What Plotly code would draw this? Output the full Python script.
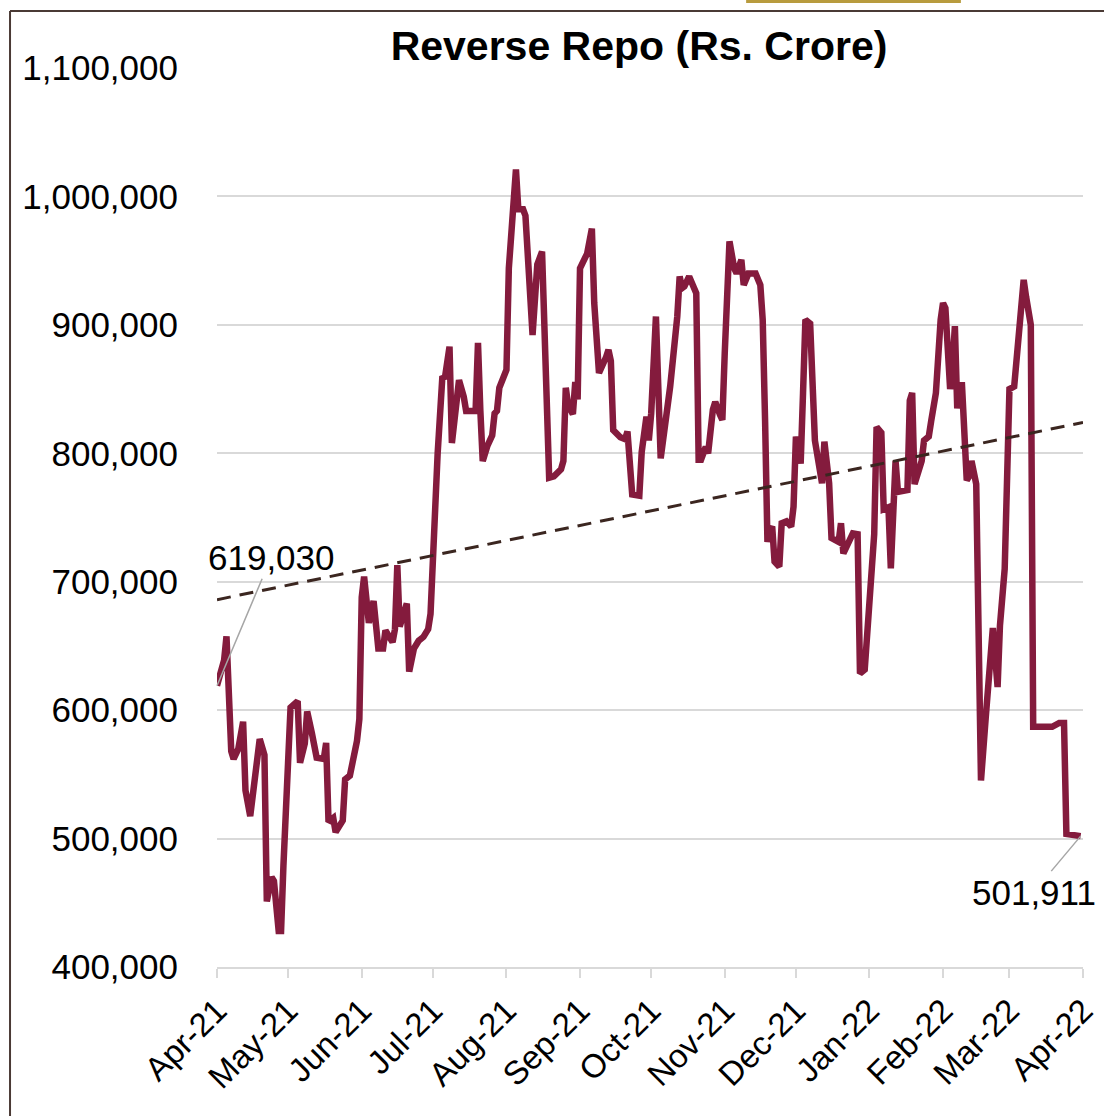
import plotly.graph_objects as go

# Daily reverse repo balances (Rs. crore), FY2021-22
DATES = [
    "2021-04-01", "2021-04-04", "2021-04-05", "2021-04-07", "2021-04-08", "2021-04-10",
    "2021-04-12", "2021-04-13", "2021-04-15", "2021-04-18", "2021-04-19", "2021-04-21",
    "2021-04-22", "2021-04-24", "2021-04-25", "2021-04-27", "2021-04-28", "2021-04-29",
    "2021-05-01", "2021-05-02", "2021-05-05", "2021-05-06", "2021-05-08", "2021-05-09",
    "2021-05-11", "2021-05-13", "2021-05-16", "2021-05-17", "2021-05-18", "2021-05-20",
    "2021-05-21", "2021-05-24", "2021-05-25", "2021-05-27", "2021-05-30", "2021-05-31",
    "2021-06-01", "2021-06-02", "2021-06-04", "2021-06-06", "2021-06-08", "2021-06-10",
    "2021-06-11", "2021-06-14", "2021-06-15", "2021-06-16", "2021-06-17", "2021-06-20",
    "2021-06-21", "2021-06-23", "2021-06-25", "2021-06-27", "2021-06-29", "2021-06-30",
    "2021-07-03", "2021-07-04", "2021-07-05", "2021-07-06", "2021-07-08", "2021-07-09",
    "2021-07-10", "2021-07-12", "2021-07-14", "2021-07-15", "2021-07-19", "2021-07-20",
    "2021-07-21", "2021-07-22", "2021-07-24", "2021-07-26", "2021-07-27", "2021-07-28",
    "2021-07-29", "2021-08-01", "2021-08-02", "2021-08-05", "2021-08-06", "2021-08-08",
    "2021-08-09", "2021-08-12", "2021-08-14", "2021-08-16", "2021-08-19", "2021-08-21",
    "2021-08-24", "2021-08-25", "2021-08-26", "2021-08-27", "2021-08-29", "2021-08-30",
    "2021-08-31", "2021-09-01", "2021-09-04", "2021-09-06", "2021-09-07", "2021-09-09",
    "2021-09-12", "2021-09-13", "2021-09-14", "2021-09-15", "2021-09-18", "2021-09-20",
    "2021-09-21", "2021-09-22", "2021-09-23", "2021-09-26", "2021-09-27", "2021-09-29",
    "2021-09-30", "2021-10-01", "2021-10-03", "2021-10-05", "2021-10-09", "2021-10-12",
    "2021-10-13", "2021-10-14", "2021-10-15", "2021-10-17", "2021-10-20", "2021-10-21",
    "2021-10-22", "2021-10-24", "2021-10-25", "2021-10-27", "2021-10-28", "2021-10-30",
    "2021-10-31", "2021-11-01", "2021-11-03", "2021-11-05", "2021-11-06", "2021-11-08",
    "2021-11-09", "2021-11-11", "2021-11-14", "2021-11-16", "2021-11-17", "2021-11-18",
    "2021-11-19", "2021-11-20", "2021-11-21", "2021-11-22", "2021-11-24", "2021-11-25",
    "2021-11-27", "2021-11-29", "2021-11-30", "2021-12-01", "2021-12-03", "2021-12-04",
    "2021-12-05", "2021-12-07", "2021-12-08", "2021-12-09", "2021-12-12", "2021-12-13",
    "2021-12-15", "2021-12-16", "2021-12-19", "2021-12-20", "2021-12-21", "2021-12-23",
    "2021-12-25", "2021-12-27", "2021-12-28", "2021-12-30", "2022-01-03", "2022-01-04",
    "2022-01-06", "2022-01-07", "2022-01-09", "2022-01-10", "2022-01-12", "2022-01-13",
    "2022-01-17", "2022-01-18", "2022-01-19", "2022-01-20", "2022-01-23", "2022-01-24",
    "2022-01-26", "2022-01-27", "2022-01-29", "2022-01-31", "2022-02-01", "2022-02-02",
    "2022-02-04", "2022-02-05", "2022-02-06", "2022-02-07", "2022-02-08", "2022-02-09",
    "2022-02-11", "2022-02-12", "2022-02-13", "2022-02-15", "2022-02-17", "2022-02-19",
    "2022-02-21", "2022-02-22", "2022-02-24", "2022-02-25", "2022-02-27", "2022-02-28",
    "2022-03-01", "2022-03-03", "2022-03-05", "2022-03-07", "2022-03-08", "2022-03-10",
    "2022-03-11", "2022-03-19", "2022-03-22", "2022-03-24", "2022-03-25", "2022-03-31",
]

REVERSE_REPO = [
    619030, 639000, 657500, 568000, 562000, 570000,
    591000, 537500, 517500, 568000, 577500, 565000,
    451000, 470000, 467000, 428000, 428000, 479000,
    556000, 602000, 607000, 559000, 574000, 599000,
    582000, 563000, 562000, 574500, 513000, 516000,
    505000, 514000, 546000, 549000, 576000, 593000,
    688000, 704000, 668000, 685000, 648000, 648000,
    662000, 653000, 663000, 713000, 665000, 683000,
    630000, 648000, 654000, 657000, 663000, 675000,
    800000, 844000, 860000, 858000, 883000, 808000,
    824000, 857000, 844000, 833000, 833000, 886000,
    833000, 794000, 806000, 814000, 831000, 833000,
    851000, 865000, 944000, 1021000, 990000, 990000,
    985000, 892000, 947000, 957000, 781000, 782000,
    787500, 794000, 851000, 837500, 830500, 855500,
    842000, 944000, 955500, 975000, 917000, 862500,
    875000, 880500, 872000, 818000, 812500, 811000,
    817000, 781000, 768000, 767000, 801000, 828600,
    810000, 831000, 906500, 796000, 852000, 906500,
    937700, 928600, 930000, 937700, 924700, 795000,
    795000, 805000, 800000, 834000, 840000, 830000,
    826000, 878000, 965000, 944000, 940000, 950600,
    931000, 940000, 940000, 931000, 904000, 826000,
    731000, 740000, 743000, 715600, 711700, 745500,
    747000, 743000, 758400, 813000, 792000, 846800,
    904000, 901000, 865000, 810000, 776600, 809000,
    776600, 734000, 731000, 745500, 722000, 730000,
    737700, 737000, 628600, 631500, 737000, 820500,
    816000, 756500, 758000, 710400, 794000, 770000,
    771400, 841000, 847000, 776000, 794000, 810000,
    813000, 825000, 847000, 904000, 917000, 913000,
    850000, 868000, 899000, 835000, 853000, 853000,
    779000, 782000, 794000, 776000, 545200, 594000,
    642000, 664000, 618000, 666000, 710000, 764000,
    850000, 852000, 898000, 935000, 922000, 900000,
    587000, 587000, 590000, 590000, 503600, 501911,
]

# Linear trend across the year
TREND_DATES = ["2021-04-01", "2022-04-01"]
TREND_VALUES = [686000, 824000]

MONTH_TICKS = [
    "2021-04-01", "2021-05-01", "2021-06-01", "2021-07-01", "2021-08-01",
    "2021-09-01", "2021-10-01", "2021-11-01", "2021-12-01", "2022-01-01",
    "2022-02-01", "2022-03-01", "2022-04-01",
]
MONTH_LABELS = [
    "Apr-21", "May-21", "Jun-21", "Jul-21", "Aug-21", "Sep-21", "Oct-21",
    "Nov-21", "Dec-21", "Jan-22", "Feb-22", "Mar-22", "Apr-22",
]

FONT = "Liberation Sans, Arial, sans-serif"
LINE_COLOR = "#841B3D"
GRID_COLOR = "#D9D9D9"

fig = go.Figure()

fig.add_trace(go.Scatter(
    x=DATES, y=REVERSE_REPO, mode="lines",
    line=dict(color=LINE_COLOR, width=6.5),
    showlegend=False, hoverinfo="x+y",
))

fig.add_trace(go.Scatter(
    x=TREND_DATES, y=TREND_VALUES, mode="lines",
    line=dict(color="#3B2620", width=3, dash="14px,9px"),
    showlegend=False, hoverinfo="skip",
))

# Value call-outs on the first and last observations
fig.add_annotation(
    x=DATES[0], y=REVERSE_REPO[0], text=f"{REVERSE_REPO[0]:,}",
    showarrow=True, arrowhead=0, arrowwidth=1.5, arrowcolor="#A6A6A6",
    ax=54, ay=-128, font=dict(family=FONT, size=35, color="#000000"),
)
fig.add_annotation(
    x=DATES[-1], y=REVERSE_REPO[-1], text=f"{REVERSE_REPO[-1]:,}",
    showarrow=True, arrowhead=0, arrowwidth=1.5, arrowcolor="#A6A6A6",
    ax=-47, ay=56, font=dict(family=FONT, size=35, color="#000000"),
)

# Outer frame edges and the strip at the top
fig.add_shape(type="line", xref="paper", yref="paper",
              x0=-0.2390, x1=-0.2390, y0=-0.3, y1=1.0634,
              line=dict(color="#4A3A35", width=2))
fig.add_shape(type="line", xref="paper", yref="paper",
              x0=-0.2390, x1=1.05, y0=1.0634, y1=1.0634,
              line=dict(color="#4A3A35", width=2))
fig.add_shape(type="rect", xref="paper", yref="paper",
              x0=0.611, x1=0.859, y0=1.0722, y1=1.08,
              line=dict(width=0), fillcolor="#B89B3E")

fig.update_layout(
    width=1104, height=1116,
    margin=dict(l=217, r=21, t=68, b=149, autoexpand=False),
    paper_bgcolor="#FFFFFF", plot_bgcolor="#FFFFFF",
    font=dict(family=FONT, size=35, color="#000000"),
    title=dict(
        text="<b>Reverse Repo (Rs. Crore)</b>",
        x=639 / 1104, xanchor="center", y=1 - 46 / 1116, yanchor="middle",
        font=dict(family=FONT, size=41, color="#000000"),
    ),
    xaxis=dict(
        range=["2021-04-01", "2022-04-01"],
        tickvals=MONTH_TICKS, ticktext=MONTH_LABELS, tickangle=-45,
        showgrid=False, showline=True, linecolor=GRID_COLOR, linewidth=2,
        ticks="outside", ticklen=9, tickwidth=2, tickcolor=GRID_COLOR,
        tickfont=dict(family=FONT, size=33), zeroline=False, automargin=False,
    ),
    yaxis=dict(
        range=[400000, 1100000], dtick=100000, tickformat=",d",
        showgrid=True, gridcolor=GRID_COLOR, gridwidth=2,
        zeroline=False, showline=False, ticks="",
        ticklabelstandoff=38, tickfont=dict(family=FONT, size=35),
        automargin=False,
    ),
)

fig.write_html("out.html")
